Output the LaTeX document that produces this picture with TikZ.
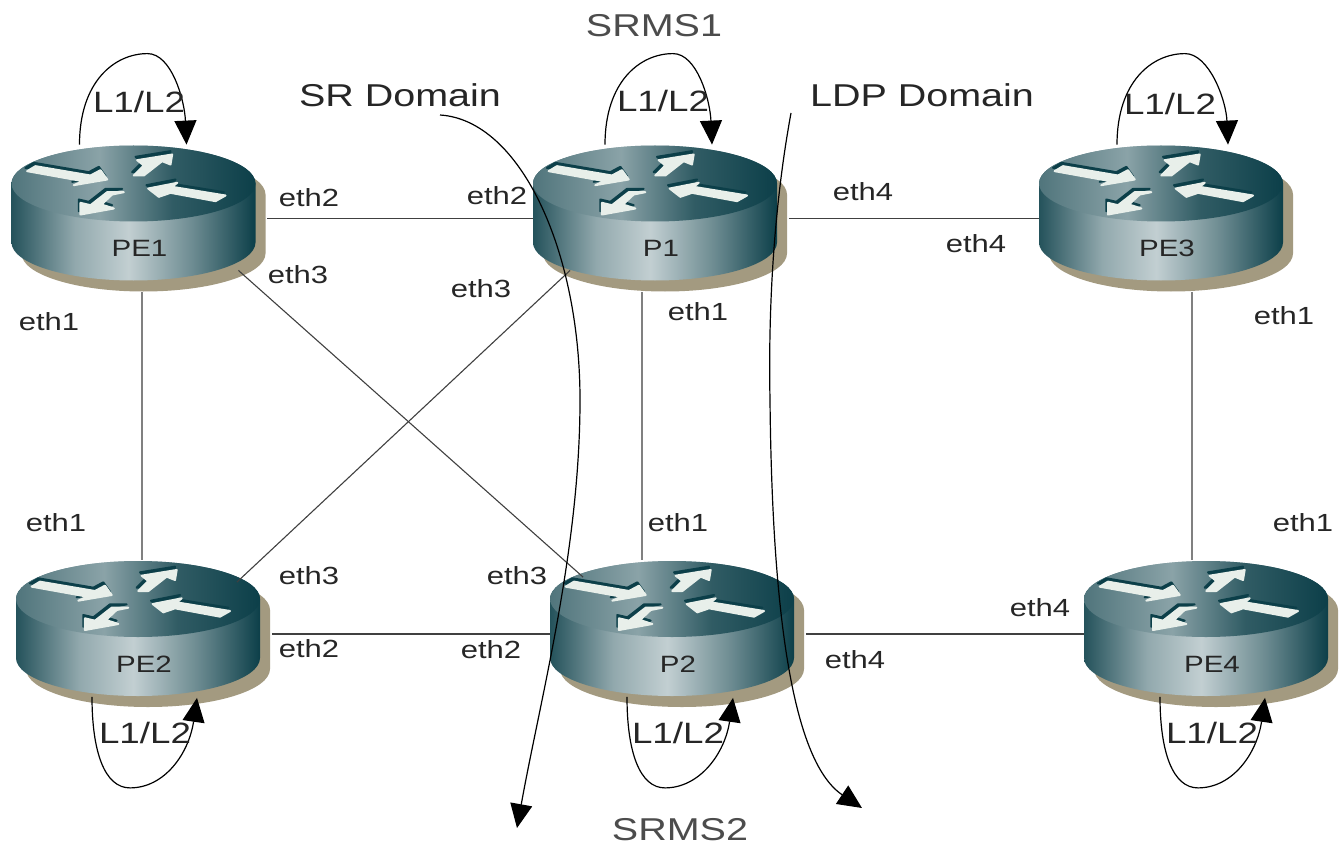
\documentclass[tikz,border=0pt]{standalone}
\usepackage{fontspec}
\setmainfont[FakeStretch=1.25]{Liberation Sans}
\usetikzlibrary{arrows.meta}

\definecolor{routershadow}{HTML}{A39A80}
\definecolor{routerink}{HTML}{0C3F49}
\definecolor{routerglyph}{HTML}{E8EFEA}
\definecolor{labelink}{HTML}{262626}

\pgfdeclarehorizontalshading{routerside}{100bp}{color(0bp)=(routerink!90!white); color(25bp)=(routerink!90!white); color(38bp)=(routerink!45!white); color(49bp)=(routerink!25!white); color(62bp)=(routerink!60!white); color(75bp)=(routerink); color(100bp)=(routerink)}
\pgfdeclarehorizontalshading{routertop}{100bp}{color(0bp)=(routerink!72!white); color(25bp)=(routerink!72!white); color(43bp)=(routerink!48!white); color(58bp)=(routerink!85!white); color(75bp)=(routerink); color(100bp)=(routerink)}

\tikzset{
  ethlabel/.style={font=\fontsize{12.4}{14}\selectfont,text=labelink,inner sep=0pt},
  looplabel/.style={font=\fontsize{14.7}{16}\selectfont,text=labelink,inner sep=0pt},
  titlelabel/.style={font=\fontsize{15.8}{17}\selectfont,text=labelink,inner sep=0pt},
  routerlabel/.style={font=\fontsize{11.8}{13}\selectfont,text=labelink,inner sep=0pt},
  thinlink/.style={draw=black!75,line width=0.55pt},
  greylink/.style={draw=black!50,line width=1.2pt},
  curveline/.style={draw=black,line width=0.6pt,-{Triangle[width=11pt,length=12pt]}}
}

% One router: name, x, y, label
\newcommand\router[4]{
  \node[minimum width=127.5pt,minimum height=73.5pt,inner sep=0pt] (#1) at (#2,#3) {};
  \begin{scope}[shift={(#2,#3)}]
    \fill[routershadow] (-118,-24) -- (-118,35) arc[start angle=180,end angle=360,x radius=61pt,y radius=19pt] -- (126,-24) arc[start angle=0,end angle=180,x radius=61pt,y radius=19pt] -- cycle;
    \shade[shading=routerside] (-128,-35) -- (-128,24) arc[start angle=180,end angle=360,x radius=61pt,y radius=19pt] -- (116,-35) arc[start angle=0,end angle=180,x radius=61pt,y radius=19pt] -- cycle;
    \shade[shading=routertop] (-6,-35) ellipse (61pt and 19pt);
    \begin{scope}[shift={(-6,-35)},x=0.1667pt,y=-0.1667pt]
      \foreach \glyph in {
        {(-319,-37) -- (-294,-52) -- (-129,-24) -- (-99,-40) -- (-79,-12) -- (-179,5) -- (-152,-7)},
        {(1,-24) -- (31,-54) -- (11,-70) -- (116,-87) -- (111,-57) -- (86,-67) -- (31,-24)},
        {(276,36) -- (246,53) -- (111,28) -- (76,40) -- (44,15) -- (131,-2) -- (116,10)},
        {(-29,26) -- (-64,33) -- (-96,63) -- (-59,75) -- (-159,93) -- (-159,58) -- (-129,65) -- (-79,26)}} {
        \filldraw[routerink,line width=1pt,line join=round,shift={(-5,-10)}] \glyph -- cycle;
        \filldraw[routerglyph,line width=1pt,line join=round] \glyph -- cycle;
      }
    \end{scope}
    \node[routerlabel] (#1label) at (0,30) {#4};
  \end{scope}
}

% Loop above a router: name, start dx, end dx
\newcommand\toploop[3]{
  \draw[curveline] ([shift={(#2,0)}]#1.north) .. controls +(0,-63) and +(-33,0) .. +(68,-91) .. controls +(24,0) and +(-2,-45) .. ([shift={(#3,0)}]#1.north);
}

% Loop below a router: name, start dx, end dx
\newcommand\bottomloop[3]{
  \draw[curveline] ([shift={(#2,-11)}]#1.south) .. controls +(0,56) and +(-25,0) .. +(38,91) .. controls +(35,0) and +(-8,55) .. ([shift={(#3,-10)}]#1.south);
}

\begin{document}
\begin{tikzpicture}[x=0.5pt,y=-0.5pt]
  \useasboundingbox (0,0) rectangle (1343,845);

  % Routers
  \router{PE1}{139.5}{218.5}{PE1}
  \router{P1}{661}{218.5}{P1}
  \router{PE3}{1167}{218.5}{PE3}
  \router{PE2}{144}{634}{PE2}
  \router{P2}{678}{634}{P2}
  \router{PE4}{1212}{634}{PE4}

  % Links
  \draw[thinlink] (PE1.east) -- (P1.west);
  \draw[thinlink] (P1.east) -- (PE3.west);
  \draw[thinlink] (PE2.east) -- (P2.west);
  \draw[thinlink] (P2.east) -- (PE4.west);
  \draw[greylink] ([shift={(2.5,0)}]PE1.south) -- ([shift={(-2,0)}]PE2.north);
  \draw[greylink] ([shift={(-19,0)}]P1.south) -- ([shift={(-36,0)}]P2.north);
  \draw[greylink] ([shift={(25,0)}]PE3.south) -- ([shift={(-20,0)}]PE4.north);
  \draw[thinlink] ([shift={(-29,-22)}]PE1.south east) -- ([shift={(33,17)}]P2.north west);
  \draw[thinlink] ([shift={(37,-22)}]P1.south west) -- ([shift={(-35,22)}]PE2.north east);

  % Loops
  \toploop{PE1}{-60}{47}
  \toploop{P1}{-56}{51}
  \toploop{PE3}{-50}{61}
  \bottomloop{PE2}{-52}{53}
  \bottomloop{P2}{-51}{55}
  \bottomloop{PE4}{-52}{53}

  % Domain borders
  \coordinate (srtop) at (440,115);
  \coordinate (srbottom) at (517,828);
  \coordinate (ldptop) at (791,113);
  \coordinate (ldpbottom) at (862,808);
  \draw[curveline] (srtop) .. controls (520,120) and (580,250) .. (580,400) .. controls (580,550) and (540,700) .. (srbottom);
  \draw[curveline] (ldptop) .. controls (775,200) and (768,300) .. (770,400) .. controls (772,600) and (790,760) .. (ldpbottom);

  % Interface labels
  \node[ethlabel] (pe1eth2) at (309,198) {eth2};
  \node[ethlabel] (pe1eth3) at (298,275) {eth3};
  \node[ethlabel] (pe1eth1) at (49,322) {eth1};
  \node[ethlabel] (p1eth2) at (497,196) {eth2};
  \node[ethlabel] (p1eth3) at (481,289) {eth3};
  \node[ethlabel] (p1eth4) at (863,192) {eth4};
  \node[ethlabel] (p1eth1) at (698,312) {eth1};
  \node[ethlabel] (pe3eth4) at (976,244) {eth4};
  \node[ethlabel] (pe3eth1) at (1284,316) {eth1};
  \node[ethlabel] (pe2eth1) at (56,523) {eth1};
  \node[ethlabel] (pe2eth3) at (309,576) {eth3};
  \node[ethlabel] (pe2eth2) at (309,649) {eth2};
  \node[ethlabel] (p2eth3) at (517,576) {eth3};
  \node[ethlabel] (p2eth2) at (491,650) {eth2};
  \node[ethlabel] (p2eth1) at (678,523) {eth1};
  \node[ethlabel] (p2eth4) at (855,660) {eth4};
  \node[ethlabel] (pe4eth4) at (1040,608) {eth4};
  \node[ethlabel] (pe4eth1) at (1303,523) {eth1};

  % Loop labels
  \node[looplabel] (pe1loop) at (139,102) {L1/L2};
  \node[looplabel] (p1loop) at (663,101) {L1/L2};
  \node[looplabel] (pe3loop) at (1170,104) {L1/L2};
  \node[looplabel] (pe2loop) at (145,733) {L1/L2};
  \node[looplabel] (p2loop) at (678,733) {L1/L2};
  \node[looplabel] (pe4loop) at (1212,733) {L1/L2};

  % Titles
  \node[titlelabel] (srdomain) at (400,95) {SR Domain};
  \node[titlelabel] (ldpdomain) at (922,95) {LDP Domain};
  \node[titlelabel,text=black!70] (srms1) at (654,26) {SRMS1};
  \node[titlelabel,text=black!70] (srms2) at (680,830) {SRMS2};

\end{tikzpicture}
\end{document}
